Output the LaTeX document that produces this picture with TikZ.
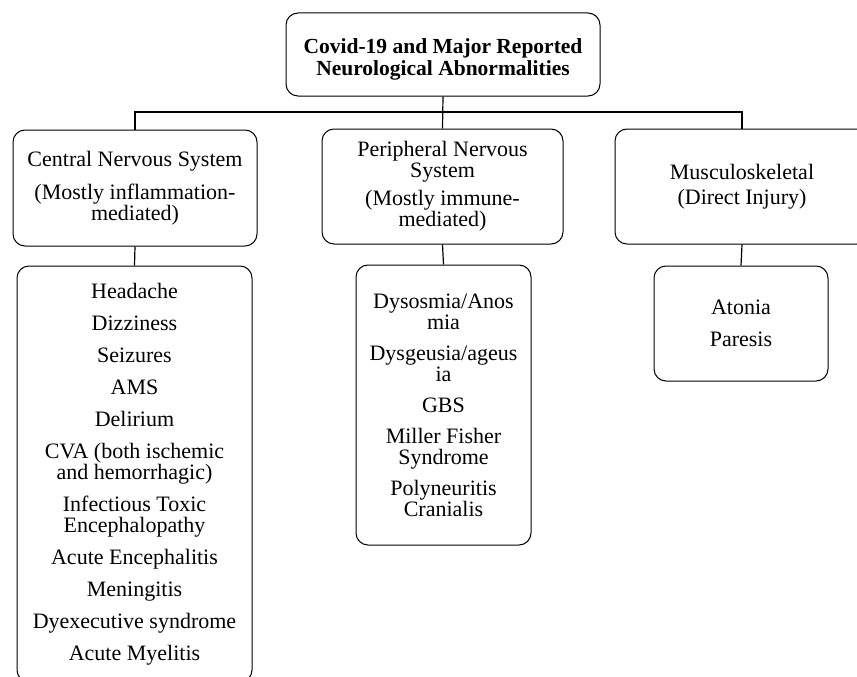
\documentclass[tikz,border=0pt]{standalone}
\usepackage{fontspec}
\setmainfont{Liberation Serif}
\usetikzlibrary{positioning}

\tikzset{
    box/.style={draw, line width=1pt, rounded corners=12pt, align=center,
        inner sep=0pt, font=\fontsize{22}{21}\selectfont},
    link/.style={line width=1.2pt}
}

\begin{document}
\begin{tikzpicture}[x=1pt, y=-1pt]

    % Frame of the picture (boxes on the right and bottom run off it)
    \clip (0,0) rectangle (857,677);
    \fill[white] (0,0) rectangle (857,677);

    % Top box
    \node[box, minimum width=314pt, minimum height=83pt, text height=48pt, text depth=5pt,
        font=\fontsize{21.5}{22.5}\selectfont\bfseries] (covid) at (443,54.5)
        {Covid-19 and Major Reported\\Neurological Abnormalities};

    % The three groups
    \node[box, minimum width=244pt, minimum height=116pt] (cns) at (135,188)
        {Central Nervous System\\[12pt](Mostly inflammation-\\mediated)};
    \node[box, minimum width=241pt, minimum height=115pt] (pns) at (442.5,186.5)
        {Peripheral Nervous\\System\\[7pt](Mostly immune-\\mediated)};
    \node[box, minimum width=254pt, minimum height=115pt] (msk) at (742,186.5)
        {Musculoskeletal\\[4pt](Direct Injury)};

    % The lists under each group
    \node[box, minimum width=235pt, minimum height=416pt] (cnslist) at (134.5,474)
        {Headache\\[11pt]Dizziness\\[11pt]Seizures\\[11pt]AMS\\[11pt]Delirium\\[11pt]%
         CVA (both ischemic\\and hemorrhagic)\\[11pt]Infectious Toxic\\Encephalopathy\\[11pt]%
         Acute Encephalitis\\[11pt]Meningitis\\[11pt]Dyexecutive syndrome\\[11pt]Acute Myelitis};
    \node[box, minimum width=175pt, minimum height=280pt] (pnslist) at (443.5,405)
        {Dysosmia/Anos\\mia\\[10pt]Dysgeusia/ageus\\ia\\[10pt]GBS\\[10pt]%
         Miller Fisher\\Syndrome\\[10pt]Polyneuritis\\Cranialis};
    \node[box, minimum width=174pt, minimum height=115pt] (msklist) at (741,323.5)
        {Atonia\\[11pt]Paresis};

    % Connectors
    \coordinate (bus) at (0,112);
    \draw[link] (covid.south) -- (pns.north);
    \draw[link] (cns.north) |- (msk.north |- bus) -- (msk.north);
    \draw[link] (cns.south) -- (cnslist.north);
    \draw[link] (pns.south) -- (pnslist.north);
    \draw[link] (msk.south) -- (msklist.north);

\end{tikzpicture}
\end{document}
